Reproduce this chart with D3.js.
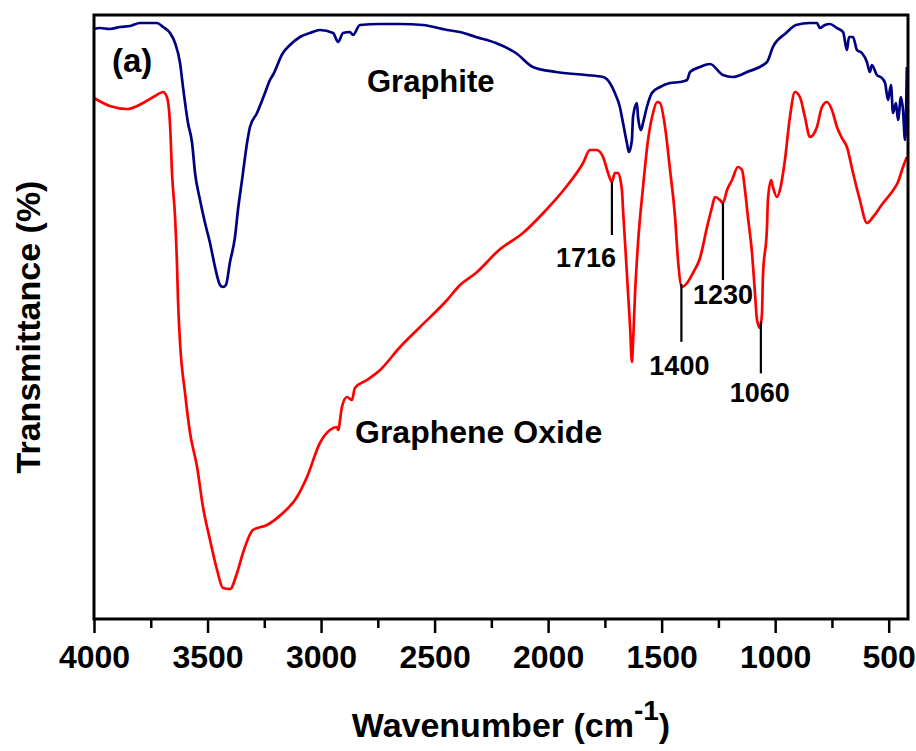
<!DOCTYPE html>
<html>
<head>
<meta charset="utf-8">
<script src="https://cdn.jsdelivr.net/npm/d3@7"></script>
<style>
  body { margin: 0; background: #fff; }
  svg text { font-family: "Liberation Sans", Arial, sans-serif; font-weight: bold; fill: #000; }
</style>
</head>
<body>
<script>
// FTIR spectra: wavenumber (cm-1) and relative transmittance
var graphiteWn = [4000,3974,3930,3885,3841,3797,3753,3723,3696,3665,3643,3621,3608,3586,3568,3555,3533,3511,3489,3467,3445,3432,3419,3401,3379,3366,3348,3326,3313,3282,3247,3225,3212,3168,3137,3093,3049,3005,2947,2925,2903,2873,2859,2829,2740,2652,2551,2445,2388,2318,2230,2142,2067,1965,1833,1758,1728,1706,1684,1670,1653,1644,1631,1626,1609,1604,1591,1582,1565,1543,1507,1463,1419,1388,1375,1331,1287,1230,1186,1124,1036,1010,952,908,847,816,803,781,759,728,701,684,675,657,640,618,596,583,574,552,530,516,503,490,481,468,459,446,437,428,420];
var graphiteT = [59.0,59.1,59.0,59.2,59.3,59.6,59.6,59.6,59.2,58.6,57.6,55.6,53.2,49.6,47.6,44.6,41.9,39.6,37.6,35.2,33.4,33.2,33.4,35.7,38.2,40.9,43.9,47.6,49.2,50.6,52.6,53.9,54.4,56.6,57.4,58.2,58.6,58.9,58.6,57.7,58.6,58.7,58.4,59.4,59.5,59.5,59.4,58.9,58.7,58.2,57.6,56.6,55.2,54.7,54.4,54.2,53.6,52.6,51.2,49.6,47.6,46.7,47.9,50.2,51.6,50.2,48.9,49.6,51.2,52.6,53.2,53.6,53.7,53.9,54.7,55.2,55.5,54.4,54.2,54.7,55.7,57.2,58.6,59.4,59.6,59.6,59.1,59.4,59.5,59.1,58.7,56.9,58.2,58.2,56.9,56.6,55.7,54.7,55.4,54.4,54.1,53.6,51.9,53.4,50.6,51.6,49.9,52.2,50.9,47.9,55.2];

var grapheneOxideWn = [4000,3930,3855,3784,3731,3696,3679,3665,3656,3643,3634,3630,3621,3599,3577,3546,3520,3489,3458,3432,3401,3370,3344,3300,3238,3168,3106,3062,3005,2961,2930,2925,2908,2886,2864,2851,2798,2740,2652,2564,2445,2388,2318,2216,2111,2009,1921,1846,1816,1786,1758,1736,1719,1706,1692,1675,1670,1661,1648,1639,1631,1626,1617,1604,1582,1560,1538,1520,1507,1485,1463,1441,1428,1411,1388,1362,1331,1300,1278,1265,1243,1230,1212,1190,1164,1146,1133,1120,1102,1089,1080,1067,1058,1054,1036,1032,1018,1010,992,979,957,935,913,891,869,847,816,794,772,750,728,706,684,657,627,596,569,525,486,459,437,420];
var grapheneOxideT = [52.1,51.3,51.0,51.6,52.3,52.7,52.2,49.4,44.4,40.2,35.1,31.9,27.6,22.6,18.6,15.2,11.2,7.9,4.9,3.1,3.0,4.6,6.6,8.9,9.4,10.6,12.2,14.2,17.6,18.9,19.2,18.9,21.2,22.2,21.9,23.1,23.9,24.9,27.2,29.2,31.9,33.4,34.6,36.9,38.6,40.9,43.2,45.6,46.9,46.9,46.2,44.6,43.7,44.6,44.6,42.9,40.9,37.6,32.6,29.2,25.7,27.6,32.6,37.6,43.2,47.9,50.6,51.7,51.6,49.2,44.9,40.2,35.9,33.2,33.6,34.6,36.1,39.2,41.2,42.2,41.9,41.6,42.9,43.9,45.2,44.9,42.9,40.2,36.6,32.6,29.9,29.1,30.6,34.2,39.2,41.9,43.9,43.2,42.2,42.9,45.9,50.2,52.7,52.2,50.2,48.2,49.2,51.2,51.7,50.9,49.2,48.1,47.2,44.6,41.9,39.6,40.2,41.6,42.7,43.7,45.2,46.2];

var xTicks = [4000,3500,3000,2500,2000,1500,1000,500];
var xMinorTicks = [3750,3250,2750,2250,1750,1250,750];

var peakLabels = ["1716","1400","1230","1060"];
var peakWn = [1719,1413,1230,1063];

var seriesNames = ["Graphite","Graphene Oxide"];
var seriesColors = ["#000080","#ff0000"];

var W = 916, H = 751;
var margin = {top: 15, right: 8, bottom: 132, left: 94};

var svg = d3.select("body").append("svg")
  .attr("width", W)
  .attr("height", H);

var x = d3.scaleLinear().domain([4000, 415]).range([margin.left, W - margin.right]);
var y = d3.scaleLinear().domain([0, 60.4]).range([H - margin.bottom, margin.top]);

function toPoints(wn, t) {
  return wn.map(function(d, i) { return [d, t[i]]; });
}
var series = [toPoints(graphiteWn, graphiteT), toPoints(grapheneOxideWn, grapheneOxideT)];

var line = d3.line()
  .curve(d3.curveMonotoneX)
  .x(function(d) { return x(d[0]); })
  .y(function(d) { return y(d[1]); });

// spectra
svg.selectAll("path.spectrum")
  .data(series)
  .enter().append("path")
  .attr("class", "spectrum")
  .attr("d", line)
  .attr("fill", "none")
  .attr("stroke", function(d, i) { return seriesColors[i]; })
  .attr("stroke-width", 2.7)
  .attr("stroke-linejoin", "round");

// frame
svg.append("rect")
  .attr("x", x.range()[0])
  .attr("y", y.range()[1])
  .attr("width", x.range()[1] - x.range()[0])
  .attr("height", y.range()[0] - y.range()[1])
  .attr("fill", "none")
  .attr("stroke", "#000")
  .attr("stroke-width", 3);

// x axis, major and minor ticks
var xAxis = svg.append("g")
  .attr("transform", "translate(0," + y.range()[0] + ")")
  .call(d3.axisBottom(x).tickValues(xTicks).tickSize(14).tickPadding(12).tickFormat(d3.format("d")));
xAxis.select(".domain").remove();
xAxis.selectAll(".tick line").attr("stroke-width", 2.5);
xAxis.selectAll(".tick text")
  .style("font-size", "32px")
  .attr("font-family", null);

svg.append("g")
  .attr("transform", "translate(0," + y.range()[0] + ")")
  .call(d3.axisBottom(x).tickValues(xMinorTicks).tickSize(9).tickFormat(""))
  .call(function(g) { g.select(".domain").remove(); })
  .selectAll(".tick line").attr("stroke-width", 2.5);

// axis titles
var xt = svg.append("text")
  .attr("x", 511)
  .attr("y", 737)
  .attr("text-anchor", "middle")
  .style("font-size", "34px");
xt.append("tspan").text("Wavenumber (cm");
xt.append("tspan").attr("dy", -17).style("font-size", "28px").text("-1");
xt.append("tspan").attr("dy", 17).text(")");

svg.append("text")
  .attr("transform", "translate(40," + 327 + ") rotate(-90)")
  .attr("text-anchor", "middle")
  .style("font-size", "34px")
  .text("Transmittance (%)");

// panel tag and series labels
svg.append("text").attr("x", 112).attr("y", 72).style("font-size", "33px").text("(a)");
svg.append("text").attr("x", 367).attr("y", 92).style("font-size", "31px").text(seriesNames[0]);
svg.append("text").attr("x", 355).attr("y", 443).style("font-size", "32px").text(seriesNames[1]);

// peak markers on the graphene oxide curve
function interp(pts, w) {
  for (var i = 1; i < pts.length; i++) {
    if (pts[i][0] <= w) {
      var a = pts[i - 1], b = pts[i];
      var f = (a[0] - w) / (a[0] - b[0]);
      return a[1] + f * (b[1] - a[1]);
    }
  }
  return pts[pts.length - 1][1];
}
var markLen = [53, 58, 77, 52];
var labelDx = [-26, -2, 0, -1];
var labelDy = [32, 33, 24, 29];

peakWn.forEach(function(w, i) {
  var px = x(w);
  var top = y(interp(series[1], w));
  svg.append("line")
    .attr("x1", px).attr("x2", px)
    .attr("y1", top).attr("y2", top + markLen[i])
    .attr("stroke", "#000")
    .attr("stroke-width", 2.2);
  svg.append("text")
    .attr("x", px + labelDx[i])
    .attr("y", top + markLen[i] + labelDy[i])
    .attr("text-anchor", "middle")
    .style("font-size", "27px")
    .text(peakLabels[i]);
});
</script>
</body>
</html>
